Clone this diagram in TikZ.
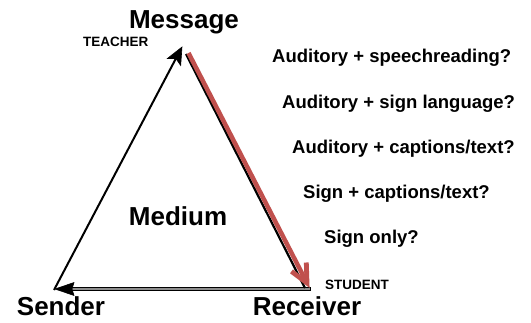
\documentclass[tikz,border=0pt]{standalone}
\usepackage{fontspec}
\setmainfont{Liberation Sans}
\definecolor{redarrow}{HTML}{C0504D}
\begin{document}
\begin{tikzpicture}[x=1pt,y=-1pt,
  every node/.style={inner sep=0pt},
  big/.style={font=\fontsize{26}{28}\selectfont\bfseries, anchor=base},
  small/.style={font=\fontsize{13.5}{15}\selectfont\bfseries, anchor=base west},
  opt/.style={font=\fontsize{18.5}{20}\selectfont\bfseries, anchor=base west},
  headfill/.style={fill=black, draw=black, line width=0.6pt, line join=miter}]
\useasboundingbox (0,0) rectangle (531,322);
% corners
\coordinate (top) at (182,47);
\coordinate (topin) at (175.9,58.5);
\coordinate (sl) at (54,290);
\coordinate (rr) at (311,289);
\coordinate (sl2) at (55,289);
\coordinate (slin) at (70,289);
\coordinate (rt) at (188.5,53);
\coordinate (rb) at (307,283);
\coordinate (rtS) at (186,54);
\coordinate (rbS) at (305,288);
% labels
\node[big] (msg) at (184,28) {Message};
\node[small] (teacher) at (83,46) {TEACHER};
\node[big] (medium) at (178,225) {Medium};
\node[big] (sender) at (61,315) {Sender};
\node[big] (receiver) at (307,315) {Receiver};
\node[small] (student) at (325,289) {STUDENT};
\node[opt] (o1) at (272,62) {Auditory + speechreading?};
\node[opt] (o2) at (282,108) {Auditory + sign language?};
\node[opt] (o3) at (292,153) {Auditory + captions/text?};
\node[opt] (o4) at (303,198) {Sign + captions/text?};
\node[opt] (o5) at (324,243) {Sign only?};
% left side arrow
\draw[line width=2pt] (sl) -- (topin);
\filldraw[headfill] (top) -- (180.7,65.5) -- (topin) -- (167.4,58.5) -- cycle;
% bottom double arrow
\draw[line width=4.8pt, black] (rr) -- (slin);
\draw[line width=2.2pt, black!45] ([xshift=-1.5pt]rr) -- (slin);
\filldraw[headfill] (sl2) -- (74,282.5) -- (72,289) -- (74,295.5) -- cycle;
% red arrow
\draw[line width=2.2pt, black] (rtS) -- (rbS);
\draw[line width=4.5pt, redarrow] (rt) -- (rb);
\draw[line width=4.8pt, redarrow, line join=miter, line cap=butt]
  (291.5,271.4) -- (rb) -- (306.3,262.5);
\end{tikzpicture}
\end{document}
